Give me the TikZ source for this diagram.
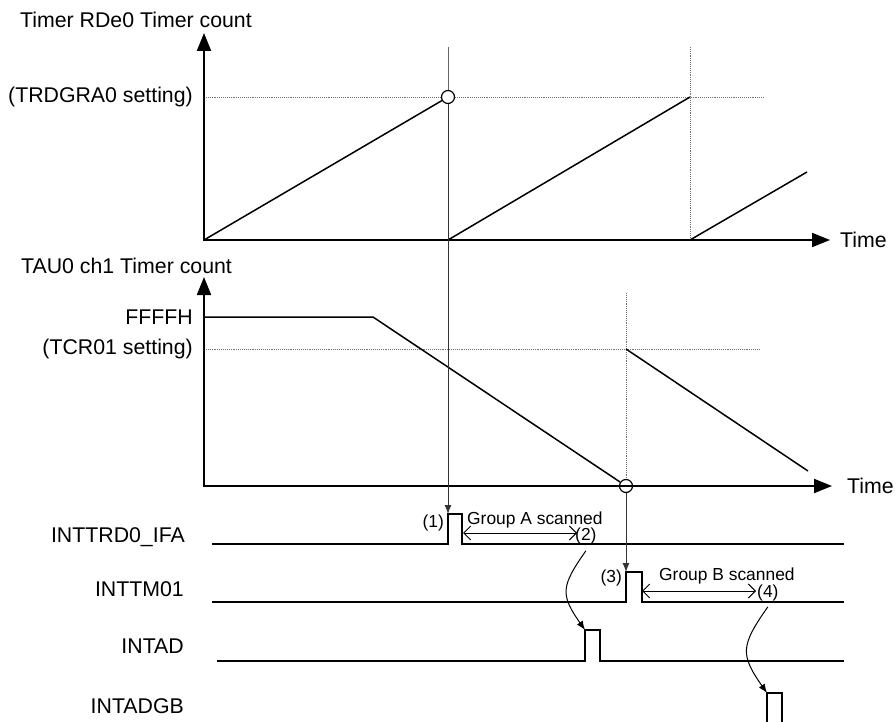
\documentclass[tikz,border=0pt]{standalone}
\usepackage{fontspec}
\setmainfont{Liberation Sans}
\usetikzlibrary{arrows.meta,positioning}

\begin{document}
\begin{tikzpicture}[
  x=1pt,y=-1pt,
  every node/.style={font=\fontsize{21.3}{25}\selectfont,inner sep=0pt},
  note/.style={font=\fontsize{17.4}{20}\selectfont},
  axis/.style={line width=2pt,{Triangle[length=18pt,width=14pt]}-{Triangle[length=18pt,width=14pt]}},
  ramp/.style={line width=1.5pt},
  sig/.style={line width=1.8pt},
  guide/.style={draw=black!60,line width=1pt},
  setline/.style={draw=black!55,line width=0.9pt,densely dotted},
  trig/.style={draw=black!80,line width=1pt,-{Latex[length=9pt,width=7pt]}},
  scanspan/.style={line width=1pt,{Straight Barb[length=7pt,width=14pt]}-{Straight Barb[length=7pt,width=14pt]}},
  hook/.style={line width=1pt,-{Latex[length=9pt,width=7pt]},looseness=1.4},
  hit/.style={circle,draw,fill=white,line width=1.2pt,minimum size=13pt}
]
\useasboundingbox (0,0) rectangle (896,722);

% Timer RDe0
\coordinate (topA) at (204,33);
\coordinate (oA) at (204,240);
\coordinate (endA) at (830,240);
\coordinate (lvA) at (204,97);
\coordinate (lvAend) at (763,97);
\coordinate (gridA) at (448,47);
\coordinate (zeroA) at (448,240);
\coordinate (gridB) at (690,47);
\coordinate (wrapA) at (690,240);
\coordinate (peakA) at (690,97);
\coordinate (tailA) at (807,172);
\node[hit] (matchA) at (448,97) {};

\draw[setline] (lvA) -- (matchA) (matchA) -- (lvAend);
\draw[setline] (gridB) -- (wrapA);
\draw[guide] (gridA) -- (matchA);
\draw[ramp] (oA) -- (matchA);
\draw[ramp] (zeroA) -- (peakA);
\draw[ramp] (wrapA) -- (tailA);
\draw[axis] (topA) |- (endA);

\node[anchor=base west] (cntA) at (20,28) {Timer RDe0 Timer count};
\node[left=11pt of lvA] (setA) {(TRDGRA0 setting)};
\node[right=10pt of endA] (timeA) {Time};

% TAU0 ch1
\coordinate (topB) at (204,277);
\coordinate (oB) at (204,486);
\coordinate (endB) at (832,486);
\coordinate (fullB) at (204,317);
\coordinate (kneeB) at (373,317);
\coordinate (lvB) at (204,349);
\coordinate (lvBend) at (760,349);
\coordinate (gridC) at (626,293);
\coordinate (reloadB) at (626,349);
\coordinate (tailB) at (808,471);
\node[hit] (matchB) at (626,486) {};

\draw[setline] (lvB) -- (lvBend);
\draw[setline] (gridC) -- (matchB);
\draw[ramp] (fullB) -- (kneeB) -- (matchB);
\draw[ramp] (reloadB) -- (tailB);
\draw[axis] (topB) |- (endB);

\node[anchor=base west] (cntB) at (21,273) {TAU0 ch1 Timer count};
\node[left=11pt of fullB] (ffff) {FFFFH};
\node[left=11pt of lvB] (setB) {(TCR01 setting)};
\node[right=15pt of endB] (timeB) {Time};

% interrupt signals
\coordinate (sA0) at (212,544);
\coordinate (riseA) at (448,514);
\coordinate (fallA) at (462,514);
\coordinate (sA1) at (844,544);
\coordinate (sB0) at (212,602);
\coordinate (riseB) at (626,572);
\coordinate (fallB) at (642,572);
\coordinate (sB1) at (844,602);
\coordinate (sC0) at (217,661);
\coordinate (riseC) at (585,630);
\coordinate (fallC) at (600,630);
\coordinate (sC1) at (844,661);
\coordinate (footD0) at (767,726);
\coordinate (riseD) at (767,693);
\coordinate (fallD) at (782,693);
\coordinate (footD1) at (782,726);

\draw[sig] (sA0) -| (riseA) -- (fallA) |- (sA1);
\draw[sig] (sB0) -| (riseB) -- (fallB) |- (sB1);
\draw[sig] (sC0) -| (riseC) -- (fallC) |- (sC1);
\draw[sig] (footD0) -- (riseD) -- (fallD) -- (footD1);

\node[anchor=base east] (nTRD) at (185,542) {INTTRD0\_IFA};
\node[anchor=base east] (nTM) at (184,596) {INTTM01};
\node[anchor=base east] (nAD) at (184,653) {INTAD};
\node[anchor=base east] (nADGB) at (184,713) {INTADGB};

\draw[trig] (matchA) -- (riseA);
\draw[trig] (matchB) -- (riseB);

\node[note,anchor=base east] (n1) at (444,527) {(1)};
\node[note,anchor=base west] (scanA) at (467,524) {Group A scanned};
\node[note,anchor=base west] (n2) at (575,540) {(2)};
\coordinate (scanA0) at (463,533);
\coordinate (scanA1) at (577,533);
\draw[scanspan] (scanA0) -- (scanA1);

\node[note,anchor=base east] (n3) at (622,582) {(3)};
\node[note,anchor=base west] (scanB) at (659,580) {Group B scanned};
\node[note,anchor=base west] (n4) at (757,597) {(4)};
\coordinate (scanB0) at (642,591);
\coordinate (scanB1) at (756,591);
\draw[scanspan] (scanB0) -- (scanB1);

\draw[hook] ([yshift=-7pt]n2.south) to[out=-125,in=125] (riseC);
\draw[hook] ([yshift=-6pt]n4.south) to[out=-125,in=125] (riseD);
\end{tikzpicture}
\end{document}
